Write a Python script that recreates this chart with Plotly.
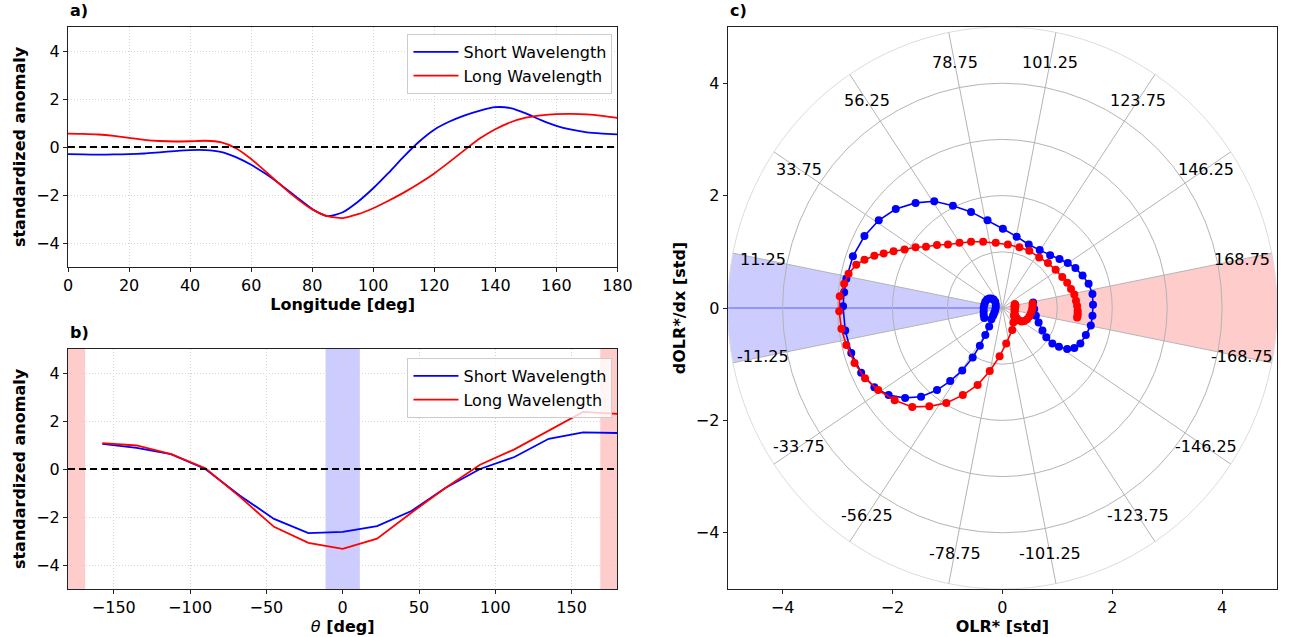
import numpy as np
import plotly.graph_objects as go

# ---------------- data ----------------
# panel a: longitude profiles
LON = [0, 5, 10, 15, 20, 25, 30, 35, 40, 45, 50, 55, 60, 65, 70, 75, 80, 85, 90,
       95, 100, 105, 110, 115, 120, 125, 130, 135, 140, 145, 150, 155, 160, 165, 170, 175, 180]
A_SHORT = [-0.30, -0.31, -0.32, -0.31, -0.30, -0.27, -0.22, -0.17, -0.13, -0.13, -0.20, -0.42,
           -0.74, -1.14, -1.60, -2.10, -2.58, -2.88, -2.72, -2.28, -1.72, -1.08, -0.40, 0.22,
           0.72, 1.06, 1.32, 1.52, 1.66, 1.62, 1.40, 1.12, 0.88, 0.72, 0.61, 0.56, 0.53]
A_LONG = [0.56, 0.55, 0.52, 0.46, 0.38, 0.30, 0.25, 0.23, 0.24, 0.26, 0.20, -0.05,
          -0.50, -1.05, -1.62, -2.15, -2.60, -2.88, -2.96, -2.80, -2.55, -2.24, -1.90, -1.52,
          -1.10, -0.62, -0.12, 0.36, 0.74, 1.03, 1.22, 1.32, 1.37, 1.38, 1.36, 1.30, 1.21]

# panel b: phase composites
THETA = [-157.5, -135, -112.5, -90, -67.5, -45, -22.5, 0, 22.5, 45, 67.5, 90, 112.5, 135, 157.5, 180]
B_SHORT = [1.05, 0.88, 0.62, 0.0, -1.10, -2.08, -2.67, -2.62, -2.38, -1.75, -0.78, 0.0, 0.50, 1.26, 1.53, 1.50]
B_LONG = [1.08, 0.98, 0.62, 0.03, -1.15, -2.41, -3.08, -3.33, -2.90, -1.82, -0.78, 0.18, 0.82, 1.60, 2.38, 2.30]
BLUE_BAND = [-11.25, 11.25]
RED_BANDS = [[-180, -168.75], [168.75, 180]]

# panel c: phase-space trajectories (OLR*, dOLR*/dx)
C_SHORT_X = [-0.33, -0.34, -0.34, -0.34, -0.33, -0.31, -0.28, -0.24, -0.20, -0.16, -0.13, -0.12,
             -0.12, -0.13, -0.15, -0.17,
             -0.20, -0.24, -0.31, -0.41, -0.54, -0.73, -0.95, -1.19, -1.48, -1.77, -2.07, -2.33,
             -2.57, -2.75, -2.86, -2.90,
             -2.88, -2.84, -2.72, -2.51, -2.25, -1.94, -1.58, -1.24, -0.90, -0.57, -0.27, 0.01,
             0.26, 0.48, 0.68, 0.87, 1.04, 1.19, 1.33, 1.46, 1.57, 1.64, 1.65,
             1.64, 1.61, 1.52, 1.42, 1.31, 1.18, 1.03, 0.91, 0.80, 0.73, 0.66, 0.61, 0.58, 0.56]
C_SHORT_Y = [-0.18, -0.12, -0.06, 0.00, 0.06, 0.11, 0.15, 0.17, 0.17, 0.15, 0.11, 0.06,
             0.01, -0.04, -0.09, -0.14,
             -0.20, -0.33, -0.48, -0.67, -0.88, -1.11, -1.30, -1.46, -1.58, -1.60, -1.55, -1.41,
             -1.15, -0.80, -0.40, 0.03,
             0.28, 0.52, 0.92, 1.28, 1.56, 1.76, 1.87, 1.90, 1.82, 1.71, 1.56, 1.41,
             1.27, 1.13, 1.03, 0.94, 0.87, 0.80, 0.71, 0.58, 0.43, 0.25, 0.06,
             -0.14, -0.31, -0.48, -0.63, -0.71, -0.73, -0.69, -0.63, -0.52, -0.40, -0.26, -0.14, -0.02, 0.10]
C_LONG_X = [0.55, 0.55, 0.54, 0.52, 0.49, 0.45, 0.40, 0.35, 0.30, 0.26, 0.23, 0.22, 0.22, 0.22,
            0.23, 0.24, 0.23, 0.21, 0.20,
            0.18, 0.07, -0.05, -0.23, -0.45, -0.72, -1.02, -1.33, -1.64, -1.96, -2.26, -2.50,
            -2.69, -2.84, -2.93, -2.97,
            -2.96, -2.88, -2.80, -2.66, -2.51, -2.33, -2.16, -1.98, -1.78, -1.58, -1.39, -1.19,
            -0.99, -0.78, -0.57, -0.35, -0.12, 0.10, 0.31, 0.49, 0.67, 0.83, 0.97, 1.09, 1.18,
            1.25, 1.31, 1.34, 1.36, 1.37, 1.37, 1.37, 1.36]
C_LONG_Y = [0.08, 0.03, -0.03, -0.09, -0.15, -0.20, -0.23, -0.24, -0.22, -0.18, -0.12, -0.06, 0.00, 0.05,
            0.07, 0.04, -0.03, -0.14, -0.26,
            -0.39, -0.63, -0.86, -1.12, -1.37, -1.55, -1.69, -1.75, -1.76, -1.64, -1.46, -1.25,
            -0.98, -0.66, -0.37, -0.06,
            0.21, 0.43, 0.61, 0.77, 0.86, 0.93, 0.97, 1.01, 1.04, 1.08, 1.09, 1.12,
            1.13, 1.16, 1.18, 1.18, 1.16, 1.13, 1.08, 1.02, 0.90, 0.80, 0.68, 0.55, 0.45,
            0.34, 0.24, 0.13, 0.04, -0.05, -0.10, -0.14, -0.17]
PHASE_LABELS = [11.25, 33.75, 56.25, 78.75, 101.25, 123.75, 146.25, 168.75,
                -11.25, -33.75, -56.25, -78.75, -101.25, -123.75, -146.25, -168.75]
RING_RADII = [1, 2, 3, 4, 5]

# ---------------- style ----------------
BLUE = "#0000ff"
RED = "#ff0000"
FONT = "DejaVu Sans"
W, H = 1295, 637


def px_x(p):
    return p / W


def px_y(p):
    return 1 - p / H


fig = go.Figure()

# panel a
fig.add_trace(go.Scatter(x=LON, y=A_SHORT, mode="lines", name="Short Wavelength",
                         line=dict(color=BLUE, width=1.8, shape="spline", smoothing=0.6),
                         xaxis="x", yaxis="y", legend="legend"))
fig.add_trace(go.Scatter(x=LON, y=A_LONG, mode="lines", name="Long Wavelength",
                         line=dict(color=RED, width=1.8, shape="spline", smoothing=0.6),
                         xaxis="x", yaxis="y", legend="legend"))
fig.add_trace(go.Scatter(x=[0, 180], y=[0, 0], mode="lines", showlegend=False,
                         line=dict(color="black", width=1.8, dash="7px,4px"), xaxis="x", yaxis="y"))

# panel b
fig.add_trace(go.Scatter(x=THETA, y=B_SHORT, mode="lines", name="Short Wavelength",
                         line=dict(color=BLUE, width=1.8), xaxis="x2", yaxis="y2", legend="legend2"))
fig.add_trace(go.Scatter(x=THETA, y=B_LONG, mode="lines", name="Long Wavelength",
                         line=dict(color=RED, width=1.8), xaxis="x2", yaxis="y2", legend="legend2"))
fig.add_trace(go.Scatter(x=[-180, 180], y=[0, 0], mode="lines", showlegend=False,
                         line=dict(color="black", width=1.8, dash="7px,4px"), xaxis="x2", yaxis="y2"))

shapes = []
shapes.append(dict(type="rect", xref="x2", yref="y2 domain", x0=BLUE_BAND[0], x1=BLUE_BAND[1],
                   y0=0, y1=1, fillcolor="rgba(0,0,255,0.2)", line=dict(width=0), layer="below"))
for b0, b1 in RED_BANDS:
    shapes.append(dict(type="rect", xref="x2", yref="y2 domain", x0=b0, x1=b1,
                       y0=0, y1=1, fillcolor="rgba(255,0,0,0.2)", line=dict(width=0), layer="below"))

# panel c: wedges (position angle = 180 - theta)
R_OUT = RING_RADII[-1]


def wedge_path(theta_a, theta_b):
    ang = np.deg2rad(180 - np.linspace(theta_a, theta_b, 40))
    xs = R_OUT * np.cos(ang)
    ys = R_OUT * np.sin(ang)
    pts = ["M 0,0"] + [f"L {x:.4f},{y:.4f}" for x, y in zip(xs, ys)] + ["Z"]
    return " ".join(pts)


shapes.append(dict(type="path", xref="x3", yref="y3", path=wedge_path(BLUE_BAND[0], BLUE_BAND[1]),
                   fillcolor="rgba(0,0,255,0.2)", line=dict(width=0), layer="below"))
shapes.append(dict(type="path", xref="x3", yref="y3", path=wedge_path(180 - 11.25, 180 + 11.25),
                   fillcolor="rgba(255,0,0,0.2)", line=dict(width=0), layer="below"))
shapes.append(dict(type="line", xref="x3", yref="y3", x0=-R_OUT, x1=0, y0=0, y1=0,
                   line=dict(color="rgba(0,0,255,0.55)", width=1.2), layer="below"))
for r in RING_RADII:
    col = "#dcdcdc" if r == R_OUT else "#b4b4b4"
    shapes.append(dict(type="circle", xref="x3", yref="y3", x0=-r, x1=r, y0=-r, y1=r,
                       line=dict(color=col, width=1), layer="below"))
for t in PHASE_LABELS:
    a = np.deg2rad(180 - t)
    shapes.append(dict(type="line", xref="x3", yref="y3", x0=0, y0=0,
                       x1=R_OUT * np.cos(a), y1=R_OUT * np.sin(a),
                       line=dict(color="#b4b4b4", width=1), layer="below"))

annotations = []
for t in PHASE_LABELS:
    a = np.deg2rad(180 - t)
    annotations.append(dict(x=4.45 * np.cos(a), y=4.45 * np.sin(a), xref="x3", yref="y3",
                            text=f"{t:g}", showarrow=False,
                            font=dict(family=FONT, size=16, color="black")))

fig.add_trace(go.Scatter(x=C_SHORT_X, y=C_SHORT_Y, mode="lines+markers", showlegend=False,
                         line=dict(color=BLUE, width=1.6), marker=dict(color=BLUE, size=8),
                         xaxis="x3", yaxis="y3"))
fig.add_trace(go.Scatter(x=C_LONG_X, y=C_LONG_Y, mode="lines+markers", showlegend=False,
                         line=dict(color=RED, width=1.6), marker=dict(color=RED, size=8),
                         xaxis="x3", yaxis="y3"))

# panel titles
for txt, xp, yp in [("a)", 64, 22), ("b)", 64, 344), ("c)", 734, 22)]:
    annotations.append(dict(text=f"<b>{txt}</b>", x=px_x(xp), y=px_y(yp), xref="paper", yref="paper",
                            xanchor="left", yanchor="bottom", showarrow=False,
                            font=dict(family=FONT, size=16, color="black")))

axis_common = dict(showline=True, mirror=True, linecolor="#222", linewidth=1,
                   ticks="outside", ticklen=4, tickwidth=1, tickcolor="#222",
                   tickfont=dict(family=FONT, size=16, color="black"), zeroline=False)
grid = dict(showgrid=True, gridcolor="#d4d4d4", gridwidth=1, griddash="1px,2px")
title_font = dict(family=FONT, size=16, color="black")
legend_common = dict(xanchor="right", yanchor="top",
                     bgcolor="rgba(255,255,255,0.8)", bordercolor="#cccccc", borderwidth=1,
                     font=dict(family=FONT, size=16, color="black"), itemwidth=45)

fig.update_layout(
    width=W, height=H, autosize=False, margin=dict(l=0, r=0, t=0, b=0),
    paper_bgcolor="white", plot_bgcolor="white",
    font=dict(family=FONT, size=16, color="black"),
    xaxis=dict(domain=[px_x(64), px_x(622)], anchor="y", range=[0, 180], dtick=20, tick0=0,
               title=dict(text="<b>Longitude [deg]</b>", font=title_font, standoff=4),
               **axis_common, **grid),
    yaxis=dict(domain=[px_y(267), px_y(27)], anchor="x", range=[-5, 5], dtick=2, tick0=0,
               title=dict(text="<b>standardized anomaly</b>", font=title_font, standoff=6),
               **axis_common, **grid),
    xaxis2=dict(domain=[px_x(64), px_x(622)], anchor="y2", range=[-180, 180], dtick=50, tick0=0,
                title=dict(text="<i>θ</i><b> [deg]</b>", font=title_font, standoff=4),
                **axis_common, **grid),
    yaxis2=dict(domain=[px_y(589), px_y(349)], anchor="x2", range=[-5, 5], dtick=2, tick0=0,
                title=dict(text="<b>standardized anomaly</b>", font=title_font, standoff=6),
                **axis_common, **grid),
    xaxis3=dict(domain=[px_x(734), px_x(1292)], anchor="y3", range=[-5, 5], dtick=2, tick0=0,
                title=dict(text="<b>OLR* [std]</b>", font=title_font, standoff=4),
                showgrid=False, **axis_common),
    yaxis3=dict(domain=[px_y(589), px_y(27)], anchor="x3", range=[-5, 5], dtick=2, tick0=0,
                title=dict(text="<b>dOLR*/dx [std]</b>", font=title_font, standoff=6),
                showgrid=False, **axis_common),
    legend=dict(x=px_x(617), y=px_y(34), **legend_common),
    legend2=dict(x=px_x(617), y=px_y(358), **legend_common),
    shapes=shapes,
    annotations=annotations,
)

POST = ("document.documentElement.style.margin='0';document.documentElement.style.overflow='hidden';"
        "document.body.style.margin='0';document.body.style.overflow='hidden';")

fig.write_html("out.html", config={"displayModeBar": False, "responsive": False}, post_script=POST)
